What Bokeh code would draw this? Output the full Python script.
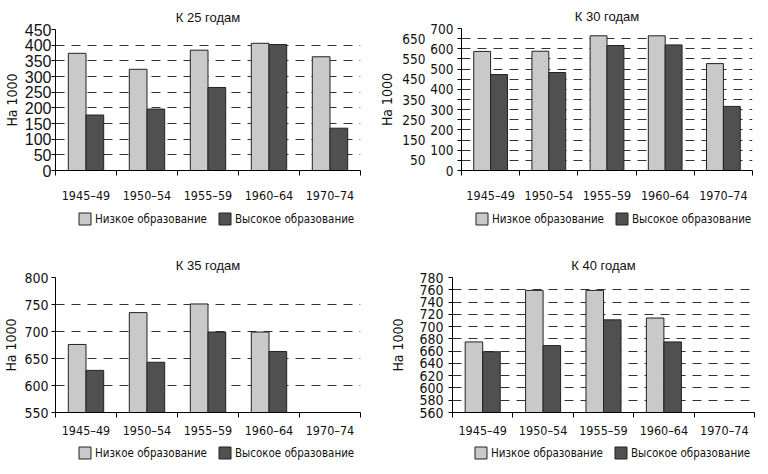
from bokeh.plotting import figure
from bokeh.models import (FixedTicker, LinearAxis, Range1d, Legend, LegendItem,
                          Grid, ColumnDataSource)
from bokeh.layouts import column, row
from bokeh.embed import file_html
from bokeh.resources import INLINE

# ---------------- data ----------------
categories = ["1945\u201349", "1950\u201354", "1955\u201359", "1960\u201364", "1970\u201374"]
series_names = ["Низкое образование", "Высокое образование"]
titles = ["К 25 годам", "К 30 годам", "К 35 годам", "К 40 годам"]
y_axis_label = "На 1000"

low_25 = [374, 323, 384, 406, 363]
high_25 = [177, 196, 265, 402, 135]
low_30 = [587, 588, 664, 664, 527]
high_30 = [473, 483, 616, 619, 316]
low_35 = [676, 735, 751, 699, None]
high_35 = [628, 643, 699, 663, None]
low_40 = [675, 759, 759, 714, None]
high_40 = [659, 669, 711, 675, None]

yticks_25 = [0, 50, 100, 150, 200, 250, 300, 350, 400, 450]
yticks_30 = [0, 50, 100, 150, 200, 250, 300, 350, 400, 450, 500, 550, 600, 650, 700]
yticks_35 = [550, 600, 650, 700, 750, 800]
yticks_40 = [560, 580, 600, 620, 640, 660, 680, 700, 720, 740, 760, 780]

# ---------------- style ----------------
NARROW = "DejaVu Sans Condensed"
REG = "Liberation Sans"
LOW_COLOR = "#c9c9c9"
HIGH_COLOR = "#505050"
EDGE = "#222222"
TXT = "#111111"
BAR_W = 0.58


def make_panel(title, low, high, yticks, width, height, bl, br, bt, bb, x_standoff,
               stagger=False, tick_font=REG, tick_size="15px", tick_standoff=2,
               label_standoff=2):
    p = figure(width=width, height=height, output_backend="svg", toolbar_location=None,
               x_range=Range1d(0, 2 * len(categories)),
               y_range=Range1d(yticks[0], yticks[-1]),
               x_axis_type=None, y_axis_type=None,
               min_border_left=bl, min_border_right=br, min_border_top=bt, min_border_bottom=bb)
    p.outline_line_color = None
    p.title.text = title
    p.title.align = "center"
    p.title.text_font = REG
    p.title.text_font_size = "13px"
    p.title.text_font_style = "normal"
    p.title.text_color = TXT
    p.title.standoff = 10

    idx = [i for i in range(len(categories)) if low[i] is not None]
    centers = [2 * i + 1 for i in idx]
    src_low = ColumnDataSource(dict(x=[c - BAR_W / 2 for c in centers], top=[low[i] for i in idx]))
    src_high = ColumnDataSource(dict(x=[c + BAR_W / 2 for c in centers], top=[high[i] for i in idx]))
    p.vbar(x="x", top="top", bottom=yticks[0], width=BAR_W, source=src_low,
           fill_color=LOW_COLOR, line_color=EDGE, line_width=1)
    p.vbar(x="x", top="top", bottom=yticks[0], width=BAR_W, source=src_high,
           fill_color=HIGH_COLOR, line_color=EDGE, line_width=1)

    grid = Grid(dimension=1, ticker=FixedTicker(ticks=yticks[1:]), grid_line_color="#333333",
                grid_line_dash="9 7", grid_line_width=1)
    p.add_layout(grid)

    xt = FixedTicker(ticks=[2 * i + 1 for i in range(len(categories))],
                     minor_ticks=[2 * i for i in range(len(categories) + 1)])
    xaxis = LinearAxis(ticker=xt,
                       major_label_overrides={2 * i + 1: c for i, c in enumerate(categories)},
                       major_tick_in=0, major_tick_out=0, minor_tick_in=0, minor_tick_out=5,
                       minor_tick_line_color="black", axis_line_color="black",
                       major_label_standoff=x_standoff,
                       major_label_text_font=NARROW, major_label_text_font_size="12.5px",
                       major_label_text_color=TXT)
    p.add_layout(xaxis, "below")

    label_kw = dict(axis_label=y_axis_label, axis_label_standoff=label_standoff,
                    axis_label_text_font=NARROW, axis_label_text_font_size="14px",
                    axis_label_text_font_style="normal", axis_label_text_color=TXT)
    if stagger:
        inner_ticks = yticks[0::2]
        outer_ticks = yticks[1::2]
        yin = LinearAxis(ticker=FixedTicker(ticks=inner_ticks, minor_ticks=outer_ticks),
                         major_tick_in=0, major_tick_out=4, minor_tick_in=0, minor_tick_out=4,
                         minor_tick_line_color="black", axis_line_color="black",
                         major_label_standoff=tick_standoff,
                         major_label_text_font=tick_font, major_label_text_font_size=tick_size,
                         major_label_text_color=TXT)
        yout = LinearAxis(ticker=FixedTicker(ticks=outer_ticks), axis_line_color=None,
                          major_tick_in=0, major_tick_out=0, minor_tick_in=0, minor_tick_out=0,
                          major_label_standoff=2,
                          major_label_text_font=tick_font, major_label_text_font_size=tick_size,
                          major_label_text_color=TXT, **label_kw)
        p.add_layout(yin, "left")
        p.add_layout(yout, "left")
    else:
        yax = LinearAxis(ticker=FixedTicker(ticks=yticks),
                         major_tick_in=0, major_tick_out=4, axis_line_color="black",
                         major_label_standoff=tick_standoff,
                         major_label_text_font=tick_font, major_label_text_font_size=tick_size,
                         major_label_text_color=TXT, **label_kw)
        p.add_layout(yax, "left")
    return p


def make_legend(width, height, loc):
    lf = figure(width=width, height=height, output_backend="svg", toolbar_location=None,
                x_range=Range1d(0, 1), y_range=Range1d(0, 1),
                x_axis_type=None, y_axis_type=None, min_border=0)
    lf.outline_line_color = None
    # legend-only renderers: their single bar lies far outside the visible ranges
    hidden = ColumnDataSource(dict(x=[-50.0], top=[-50.0]))
    r_low = lf.vbar(x="x", top="top", bottom=-51.0, width=0.1, source=hidden,
                    fill_color=LOW_COLOR, line_color=EDGE, line_width=1)
    r_high = lf.vbar(x="x", top="top", bottom=-51.0, width=0.1, source=hidden,
                     fill_color=HIGH_COLOR, line_color=EDGE, line_width=1)
    legend = Legend(items=[LegendItem(label=series_names[0], renderers=[r_low]),
                           LegendItem(label=series_names[1], renderers=[r_high])],
                    orientation="horizontal", location=loc,
                    glyph_width=15, glyph_height=15, label_standoff=3, spacing=10,
                    padding=0, margin=0, border_line_color=None,
                    background_fill_alpha=0, label_text_font=NARROW,
                    label_text_font_size="11.5px", label_text_color=TXT)
    lf.add_layout(legend)
    return lf


p1 = make_panel(titles[0], low_25, high_25, yticks_25, 376, 205, 50, 16, 29, 34,
                x_standoff=12, tick_font=REG, tick_size="16px", tick_standoff=0,
                label_standoff=2)
p2 = make_panel(titles[1], low_30, high_30, yticks_30, 382, 205, 74, 6, 28, 33,
                x_standoff=12, stagger=True, tick_font=NARROW, tick_size="13.5px",
                tick_standoff=4, label_standoff=4)
p3 = make_panel(titles[2], low_35, high_35, yticks_35, 376, 211, 50, 16, 48, 20,
                x_standoff=5, tick_font=NARROW, tick_size="14px", tick_standoff=3,
                label_standoff=2)
p4 = make_panel(titles[3], low_40, high_40, yticks_40, 382, 211, 76, 4, 48, 20,
                x_standoff=5, tick_font=NARROW, tick_size="14px", tick_standoff=5,
                label_standoff=10)

# legend positions are relative to the (aligned) plot frame of each column
l1 = make_legend(376, 24, (22, 3))
l2 = make_legend(382, 24, (13, 3))
l3 = make_legend(376, 22, (22, 2))
l4 = make_legend(382, 22, (21, 2))

layout = column(row(column(p1, l1), column(p2, l2)),
                row(column(p3, l3), column(p4, l4)))

with open("out.html", "w") as f:
    f.write(file_html(layout, INLINE))
